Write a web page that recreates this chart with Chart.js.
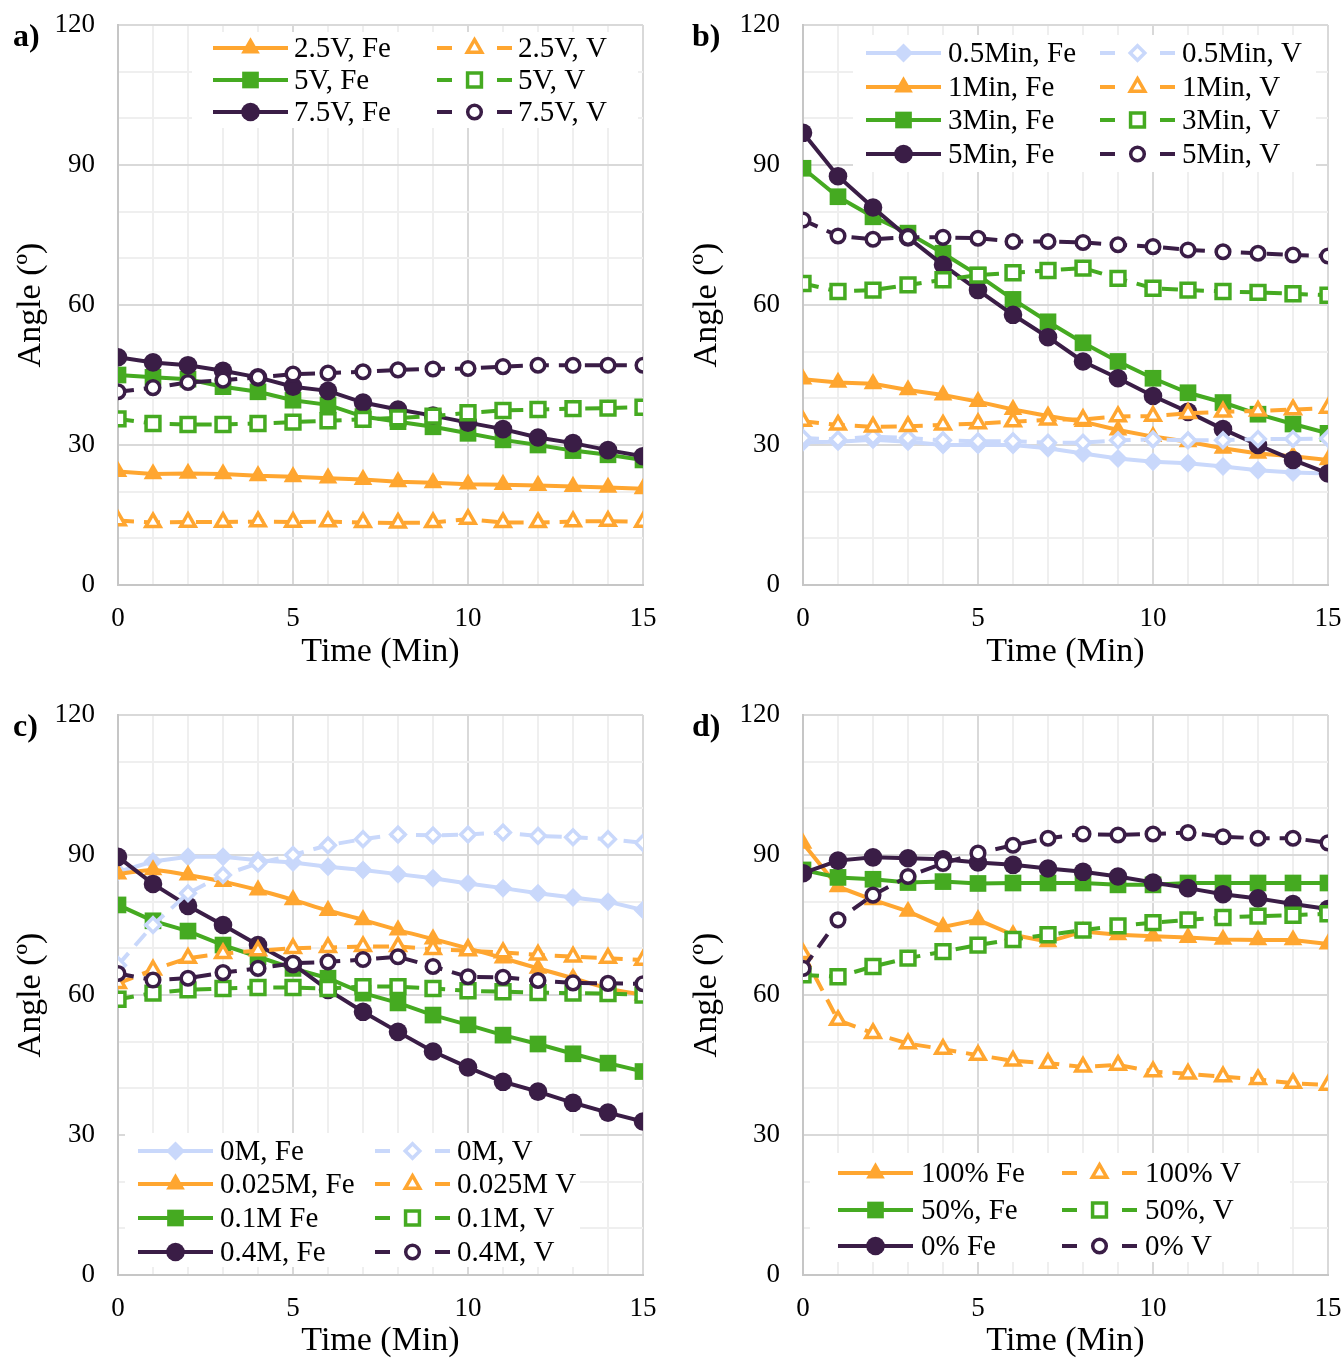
<!DOCTYPE html>
<html>
<head>
<meta charset="utf-8">
<script src="https://cdn.jsdelivr.net/npm/chart.js@4.4.0/dist/chart.umd.min.js"></script>
<style>
    body { margin: 0; background: #fff; width: 1344px; height: 1358px; position: relative; overflow: hidden; }
    canvas { position: absolute; }
    .tag { position: absolute; font: bold 32px "Liberation Serif", serif; line-height: 32px; color: #000; }
</style>
</head>
<body>
<canvas id="ca" width="672" height="679" style="left:0;top:0"></canvas>
<canvas id="cb" width="672" height="679" style="left:672px;top:0"></canvas>
<canvas id="cc" width="672" height="679" style="left:0;top:679px"></canvas>
<canvas id="cd" width="672" height="679" style="left:672px;top:679px"></canvas>
<div class="tag" style="left:13px;top:19px">a)</div>
<div class="tag" style="left:692px;top:19px">b)</div>
<div class="tag" style="left:13px;top:709px">c)</div>
<div class="tag" style="left:692px;top:709px">d)</div>

<script>
// time axis and tick labels
const times = [0, 1, 2, 3, 4, 5, 6, 7, 8, 9, 10, 11, 12, 13, 14, 15];
const xTicks = [0, 5, 10, 15];
const yTicks = [0, 30, 60, 90, 120];

// a) voltage
const aLabelsFe = ['2.5V, Fe', '5V, Fe', '7.5V, Fe'];
const aLabelsV = ['2.5V, V', '5V, V', '7.5V, V'];
const aFe25 = [24.3, 23.8, 23.9, 23.8, 23.4, 23.2, 22.9, 22.6, 22.1, 21.9, 21.6, 21.5, 21.3, 21.1, 20.9, 20.6];
const aFe5 = [45.0, 44.5, 44.1, 42.5, 41.4, 39.6, 38.6, 36.1, 35.0, 33.9, 32.5, 31.1, 30.0, 28.8, 27.9, 26.8];
const aFe75 = [48.8, 47.7, 47.1, 45.9, 44.5, 42.5, 41.6, 39.1, 37.6, 36.3, 34.8, 33.4, 31.6, 30.4, 28.9, 27.6];
const aV25 = [13.8, 13.4, 13.5, 13.5, 13.6, 13.5, 13.6, 13.4, 13.3, 13.4, 14.1, 13.4, 13.4, 13.6, 13.7, 13.5];
const aV5 = [35.6, 34.6, 34.4, 34.4, 34.6, 34.9, 35.2, 35.5, 35.8, 36.2, 36.9, 37.4, 37.6, 37.8, 37.9, 38.1];
const aV75 = [41.4, 42.3, 43.4, 43.9, 44.5, 45.2, 45.4, 45.7, 46.1, 46.3, 46.4, 46.8, 47.1, 47.1, 47.1, 47.1];

// b) duration
const bLabelsFe = ['0.5Min, Fe', '1Min, Fe', '3Min, Fe', '5Min, Fe'];
const bLabelsV = ['0.5Min, V', '1Min, V', '3Min, V', '5Min, V'];
const bFe05 = [30.6, 30.7, 31.1, 30.7, 30.0, 30.0, 30.0, 29.3, 28.2, 27.1, 26.4, 26.1, 25.4, 24.6, 24.1, 23.9];
const bFe1 = [44.1, 43.4, 43.1, 41.8, 40.7, 39.3, 37.6, 36.2, 35.0, 33.2, 31.8, 30.7, 29.3, 28.2, 27.6, 26.8];
const bFe3 = [89.3, 83.2, 78.9, 75.4, 71.1, 66.4, 61.2, 56.4, 51.9, 47.9, 44.3, 41.2, 39.1, 36.6, 34.5, 32.5];
const bFe5 = [96.9, 87.6, 80.9, 74.5, 68.6, 63.2, 57.9, 53.1, 47.9, 44.3, 40.5, 37.1, 33.4, 30.0, 26.8, 23.9];
const bV05 = [31.5, 31.2, 31.8, 31.5, 31.0, 30.8, 30.8, 30.5, 30.5, 31.0, 31.2, 31.0, 31.0, 31.3, 31.3, 31.4];
const bV1 = [35.1, 34.3, 33.9, 34.0, 34.3, 34.6, 35.0, 35.4, 35.5, 36.1, 36.2, 36.8, 37.1, 37.3, 37.6, 37.9];
const bV3 = [64.6, 62.9, 63.2, 64.3, 65.4, 66.4, 66.9, 67.4, 67.9, 65.7, 63.6, 63.2, 62.9, 62.7, 62.4, 62.1];
const bV5 = [78.2, 74.8, 74.1, 74.5, 74.5, 74.3, 73.6, 73.6, 73.4, 72.9, 72.5, 71.8, 71.4, 71.1, 70.7, 70.5];

// c) concentration
const cLabelsFe = ['0M, Fe', '0.025M, Fe', '0.1M Fe', '0.4M, Fe'];
const cLabelsV = ['0M, V', '0.025M V', '0.1M, V', '0.4M, V'];
const cFe0 = [86.4, 88.6, 89.6, 89.6, 88.9, 88.4, 87.5, 86.8, 85.9, 85.0, 83.9, 82.9, 81.8, 80.9, 80.0, 78.2];
const cFe025 = [85.9, 86.8, 85.7, 84.3, 82.5, 80.4, 78.1, 76.1, 73.9, 72.0, 70.0, 67.9, 65.7, 63.6, 61.4, 60.0];
const cFe01 = [79.3, 75.9, 73.7, 70.7, 68.2, 65.7, 63.6, 60.4, 58.3, 55.7, 53.6, 51.4, 49.5, 47.4, 45.4, 43.6];
const cFe04 = [89.6, 83.8, 79.1, 75.0, 70.7, 66.6, 61.1, 56.4, 52.1, 47.9, 44.5, 41.4, 39.3, 36.9, 34.8, 32.9];
const cV0 = [66.4, 75.0, 81.8, 85.7, 88.2, 90.0, 92.1, 93.4, 94.4, 94.2, 94.4, 94.8, 94.1, 93.8, 93.4, 92.6];
const cV025 = [62.5, 65.4, 67.9, 68.9, 69.5, 70.0, 70.2, 70.4, 70.4, 69.8, 69.5, 69.1, 68.6, 68.2, 67.9, 67.5];
const cV01 = [59.1, 60.4, 61.1, 61.4, 61.6, 61.6, 61.4, 61.8, 61.8, 61.4, 60.9, 60.7, 60.5, 60.4, 60.3, 60.0];
const cV04 = [64.6, 63.2, 63.6, 64.8, 65.7, 66.8, 67.1, 67.6, 68.2, 66.1, 63.9, 63.8, 63.1, 62.6, 62.5, 62.4];

// d) electrolyte ratio
const dLabelsFe = ['100% Fe', '50%, Fe', '0% Fe'];
const dLabelsV = ['100% V', '50%, V', '0% V'];
const dFe100 = [92.5, 83.2, 80.4, 77.9, 74.6, 76.1, 72.9, 71.4, 73.6, 72.9, 72.6, 72.3, 71.9, 71.8, 71.8, 70.9];
const dFe50 = [86.8, 85.2, 84.8, 84.1, 84.3, 83.9, 84.0, 84.0, 84.0, 83.6, 83.6, 84.0, 84.0, 84.0, 84.0, 84.0];
const dFe0 = [86.1, 88.8, 89.5, 89.3, 89.1, 88.4, 87.9, 87.1, 86.4, 85.4, 84.1, 82.9, 81.6, 80.7, 79.5, 78.4];
const dV100 = [68.9, 54.6, 51.8, 49.6, 48.4, 47.1, 45.9, 45.4, 44.6, 45.0, 43.6, 43.1, 42.5, 41.9, 41.1, 40.7];
const dV50 = [64.3, 63.9, 66.1, 67.9, 69.3, 70.7, 71.9, 72.9, 73.9, 74.8, 75.5, 76.1, 76.6, 76.9, 77.1, 77.4];
const dV0 = [65.7, 76.1, 81.4, 85.4, 88.2, 90.4, 92.1, 93.6, 94.5, 94.3, 94.5, 94.8, 93.9, 93.6, 93.6, 92.6];

const LIGHT = '#c9d8fb', ORANGE = '#ffa630', GREEN = '#45aa21', DARK = '#3a1d46';
const FONT = '"Liberation Serif", "Times New Roman", serif';
const GRID_MAJOR = '#d9d9d9', GRID_MINOR = '#efefef';

const markers = {
    diamond: { style: 'rectRot', filled: 9.5, open: 7.3 },
    triangle: { style: 'triangle', filled: 10.8, open: 8.3 },
    square: { style: 'rect', filled: 11.8, open: 9.8 },
    circle: { style: 'circle', filled: 9.3, open: 6.8 }
};

function series(label, values, color, kind, open) {
    const m = markers[kind];
    return {
        label: label,
        data: values.map(function (v, i) { return { x: times[i], y: v }; }),
        borderColor: color,
        borderWidth: 4,
        borderDash: open ? [16, 10] : [],
        pointStyle: m.style,
        pointRadius: open ? m.open : m.filled,
        pointHoverRadius: 0,
        pointBackgroundColor: open ? '#fff' : color,
        pointBorderColor: color,
        pointBorderWidth: open ? 3.5 : 0,
        tension: 0,
        fill: false
    };
}

// legend drawn inside the plot: line, marker, text (two columns)
const lineLegend = {
    id: 'lineLegend',
    afterDatasetsDraw: function (chart, args, opts) {
        const ctx = chart.ctx;
        const sets = chart.data.datasets;
        const half = sets.length / 2;
        ctx.save();
        ctx.fillStyle = '#fff';
        ctx.fillRect(opts.box[0], opts.box[1], opts.box[2], opts.box[3]);
        sets.forEach(function (ds, i) {
            const col = i < half ? 0 : 1;
            const c = opts.cols[col];
            const y = opts.rows[i % half];
            const open = col === 1;
            ctx.strokeStyle = ds.borderColor;
            ctx.lineWidth = 4;
            ctx.setLineDash([]);
            ctx.beginPath();
            if (open) {
                ctx.moveTo(c.x0, y); ctx.lineTo(c.x0 + 15, y);
                ctx.moveTo(c.x1 - 15, y); ctx.lineTo(c.x1, y);
            } else {
                ctx.moveTo(c.x0, y); ctx.lineTo(c.x1, y);
            }
            ctx.stroke();
            ctx.fillStyle = ds.pointBackgroundColor;
            ctx.strokeStyle = ds.pointBorderColor;
            ctx.lineWidth = ds.pointBorderWidth;
            Chart.helpers.drawPoint(ctx, {
                pointStyle: ds.pointStyle, radius: ds.pointRadius,
                borderWidth: ds.pointBorderWidth, rotation: 0
            }, (c.x0 + c.x1) / 2, y);
            ctx.fillStyle = '#000';
            ctx.font = '29px ' + FONT;
            ctx.textAlign = 'left';
            ctx.textBaseline = 'middle';
            ctx.fillText(ds.label, c.text, y + 1);
        });
        ctx.restore();
    }
};

function makeChart(p) {
    const datasets = [];
    p.fe.forEach(function (vals, i) { datasets.push(series(p.labelsFe[i], vals, p.colors[i], p.kinds[i], false)); });
    p.v.forEach(function (vals, i) { datasets.push(series(p.labelsV[i], vals, p.colors[i], p.kinds[i], true)); });
    // later series drawn on top
    datasets.forEach(function (ds, i) { ds.order = -i; });
    if (p.smooth) datasets[p.smooth].tension = 0.3;

    new Chart(document.getElementById(p.id), {
        type: 'line',
        data: { datasets: datasets },
        plugins: [lineLegend],
        options: {
            responsive: false,
            animation: false,
            events: [],
            layout: { autoPadding: false, padding: { left: 0, right: p.right, top: p.top, bottom: 0 } },
            plugins: {
                legend: { display: false },
                tooltip: { enabled: false },
                lineLegend: p.legend
            },
            scales: {
                x: {
                    type: 'linear', min: 0, max: 15,
                    afterFit: function (s) {
                        s.height = p.xh;
                        s.paddingLeft = 0;
                        s.paddingRight = 0;
                    },
                    grid: {
                        drawTicks: false, lineWidth: 2,
                        color: function (c) { return xTicks.includes(c.tick.value) ? GRID_MAJOR : GRID_MINOR; }
                    },
                    border: { color: '#c6c6c6', width: 2 },
                    ticks: {
                        stepSize: 1, autoSkip: false, maxRotation: 0, padding: 18,
                        color: '#000', font: { family: FONT, size: 27 },
                        callback: function (v) { return xTicks.includes(v) ? v : ''; }
                    },
                    title: {
                        display: true, text: 'Time (Min)', color: '#000',
                        font: { family: FONT, size: 34, lineHeight: 1 },
                        padding: { top: 0, bottom: p.xtPad }
                    }
                },
                y: {
                    min: 0, max: 120,
                    afterFit: function (s) {
                        s.width = p.yw;
                        s.paddingTop = 0;
                        s.paddingBottom = 0;
                    },
                    grid: {
                        drawTicks: false, lineWidth: 2,
                        color: function (c) { return yTicks.includes(c.tick.value) ? GRID_MAJOR : GRID_MINOR; }
                    },
                    border: { color: '#c6c6c6', width: 2 },
                    ticks: {
                        stepSize: 10, autoSkip: false, padding: 23,
                        color: '#000', font: { family: FONT, size: 27 },
                        callback: function (v) { return yTicks.includes(v) ? v : ''; }
                    },
                    title: {
                        display: true, text: 'Angle (º)', color: '#000',
                        font: { family: FONT, size: 34, lineHeight: 1 },
                        padding: { top: p.ytPad, bottom: 0 }
                    }
                }
            }
        }
    });
}

document.addEventListener('DOMContentLoaded', function () {
    makeChart({
        id: 'ca', fe: [aFe25, aFe5, aFe75], v: [aV25, aV5, aV75],
        labelsFe: aLabelsFe, labelsV: aLabelsV,
        colors: [ORANGE, GREEN, DARK], kinds: ['triangle', 'square', 'circle'],
        yw: 118, xh: 94, top: 25, right: 29, xtPad: 10, ytPad: 14,
        legend: {
            box: [192, 32, 446, 96], rows: [48, 80, 112],
            cols: [{ x0: 213, x1: 288, text: 294 }, { x0: 437, x1: 512, text: 518 }]
        }
    });
    makeChart({
        id: 'cb', fe: [bFe05, bFe1, bFe3, bFe5], v: [bV05, bV1, bV3, bV5],
        labelsFe: bLabelsFe, labelsV: bLabelsV,
        colors: [LIGHT, ORANGE, GREEN, DARK], kinds: ['diamond', 'triangle', 'square', 'circle'],
        yw: 131, xh: 94, top: 25, right: 16, xtPad: 10, ytPad: 18,
        legend: {
            box: [181, 35, 463, 137], rows: [53, 87, 120, 154],
            cols: [{ x0: 194, x1: 269, text: 276 }, { x0: 428, x1: 503, text: 510 }]
        }
    });
    makeChart({
        id: 'cc', fe: [cFe0, cFe025, cFe01, cFe04], v: [cV0, cV025, cV01, cV04],
        labelsFe: cLabelsFe, labelsV: cLabelsV,
        colors: [LIGHT, ORANGE, GREEN, DARK], kinds: ['diamond', 'triangle', 'square', 'circle'],
        yw: 118, xh: 83, top: 36, right: 29, xtPad: 0, ytPad: 14, smooth: 1,
        legend: {
            box: [125, 454, 455, 134], rows: [472, 505, 539, 573],
            cols: [{ x0: 138, x1: 213, text: 220 }, { x0: 375, x1: 450, text: 457 }]
        }
    });
    makeChart({
        id: 'cd', fe: [dFe100, dFe50, dFe0], v: [dV100, dV50, dV0],
        labelsFe: dLabelsFe, labelsV: dLabelsV,
        colors: [ORANGE, GREEN, DARK], kinds: ['triangle', 'square', 'circle'],
        yw: 131, xh: 83, top: 36, right: 16, xtPad: 0, ytPad: 18,
        legend: {
            box: [138, 474, 480, 109], rows: [494, 531, 567],
            cols: [{ x0: 166, x1: 241, text: 249 }, { x0: 390, x1: 465, text: 473 }]
        }
    });
});
</script>
</body>
</html>
